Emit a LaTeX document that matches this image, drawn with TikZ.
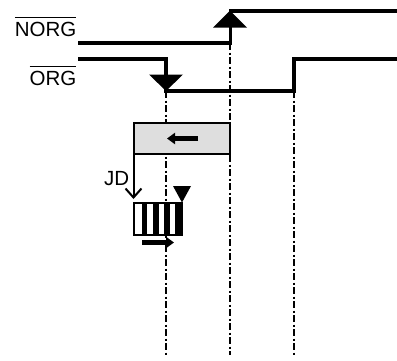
\documentclass[tikz,border=0pt]{standalone}
\usepackage{fontspec}
\setmainfont{Liberation Sans}
\usetikzlibrary{arrows.meta}
\tikzset{
  signal/.style={line width=3.6pt,line join=miter},
  guide/.style={line width=1.7pt,dash pattern=on 7pt off 2.5pt on 2pt off 2.5pt},
  tri/.style={fill=black,draw=none},
  boxline/.style={line width=2pt,outer sep=0pt},
  lab/.style={font=\fontsize{20.5}{22}\selectfont,inner sep=0pt},
  fat/.style={line width=4.6pt,-{Triangle[length=8pt,width=11pt]}}
}
\begin{document}
\begin{tikzpicture}[x=1pt,y=-1pt]
\useasboundingbox (0,0) rectangle (397,360);
\coordinate (g1t) at (166,91); \coordinate (g1b) at (166,355);
\coordinate (g2t) at (230,43); \coordinate (g2b) at (230,355);
\coordinate (g3t) at (294,91); \coordinate (g3b) at (294,355);
\draw[guide] (g1t) -- (g1b);
\draw[guide] (g2t) -- (g2b);
\draw[guide] (g3t) -- (g3b);
\draw[signal] (78,43) -- (230.5,43) -- (230.5,11) -- (397,11);
\draw[signal,line width=3.2pt] (78,59) -- (166,59) -- (166,91) -- (294,91) -- (294,59) -- (397,59);
\fill[tri] (149,74.5) -- (183,74.5) -- (166,91) -- cycle;
\fill[tri] (213,27.5) -- (247,27.5) -- (230,10.5) -- cycle;
\node[lab,anchor=base east] (norg) at (76.5,36.5) {$\overline{\hbox{\rule{0pt}{17.5pt}NORG}}$};
\node[lab,anchor=base east] (org) at (76.5,85) {$\overline{\hbox{\rule{0pt}{17.5pt}ORG}}$};
\node[boxline,draw,fill=black!13,minimum width=96pt,minimum height=31pt,inner sep=0pt,anchor=north west] (reg) at (133.5,123) {};
\coordinate (la) at (198,138.5); \coordinate (lb) at (167,138.5);
\draw[fat] (la) -- (lb);
\coordinate (jdt) at (133.5,154); \coordinate (jdb) at (133.5,199);
\draw[line width=2pt,-{Straight Barb[length=9pt,width=16pt,line width=2pt]}] (jdt) -- (jdb);
\node[lab,anchor=base east] (jd) at (129.5,185) {JD};
\foreach \x in {144.5,156,167,178} \fill (\x-2.6,203) rectangle (\x+2.6,235);
\node[boxline,draw,minimum width=48.5pt,minimum height=32pt,inner sep=0pt,anchor=north west] (shift) at (133.5,203) {};
\fill[tri] (173,186) -- (191,186) -- (182,202.5) -- cycle;
\coordinate (ra) at (142,242.5); \coordinate (rb) at (174,242.5);
\draw[fat] (ra) -- (rb);
\end{tikzpicture}
\end{document}
